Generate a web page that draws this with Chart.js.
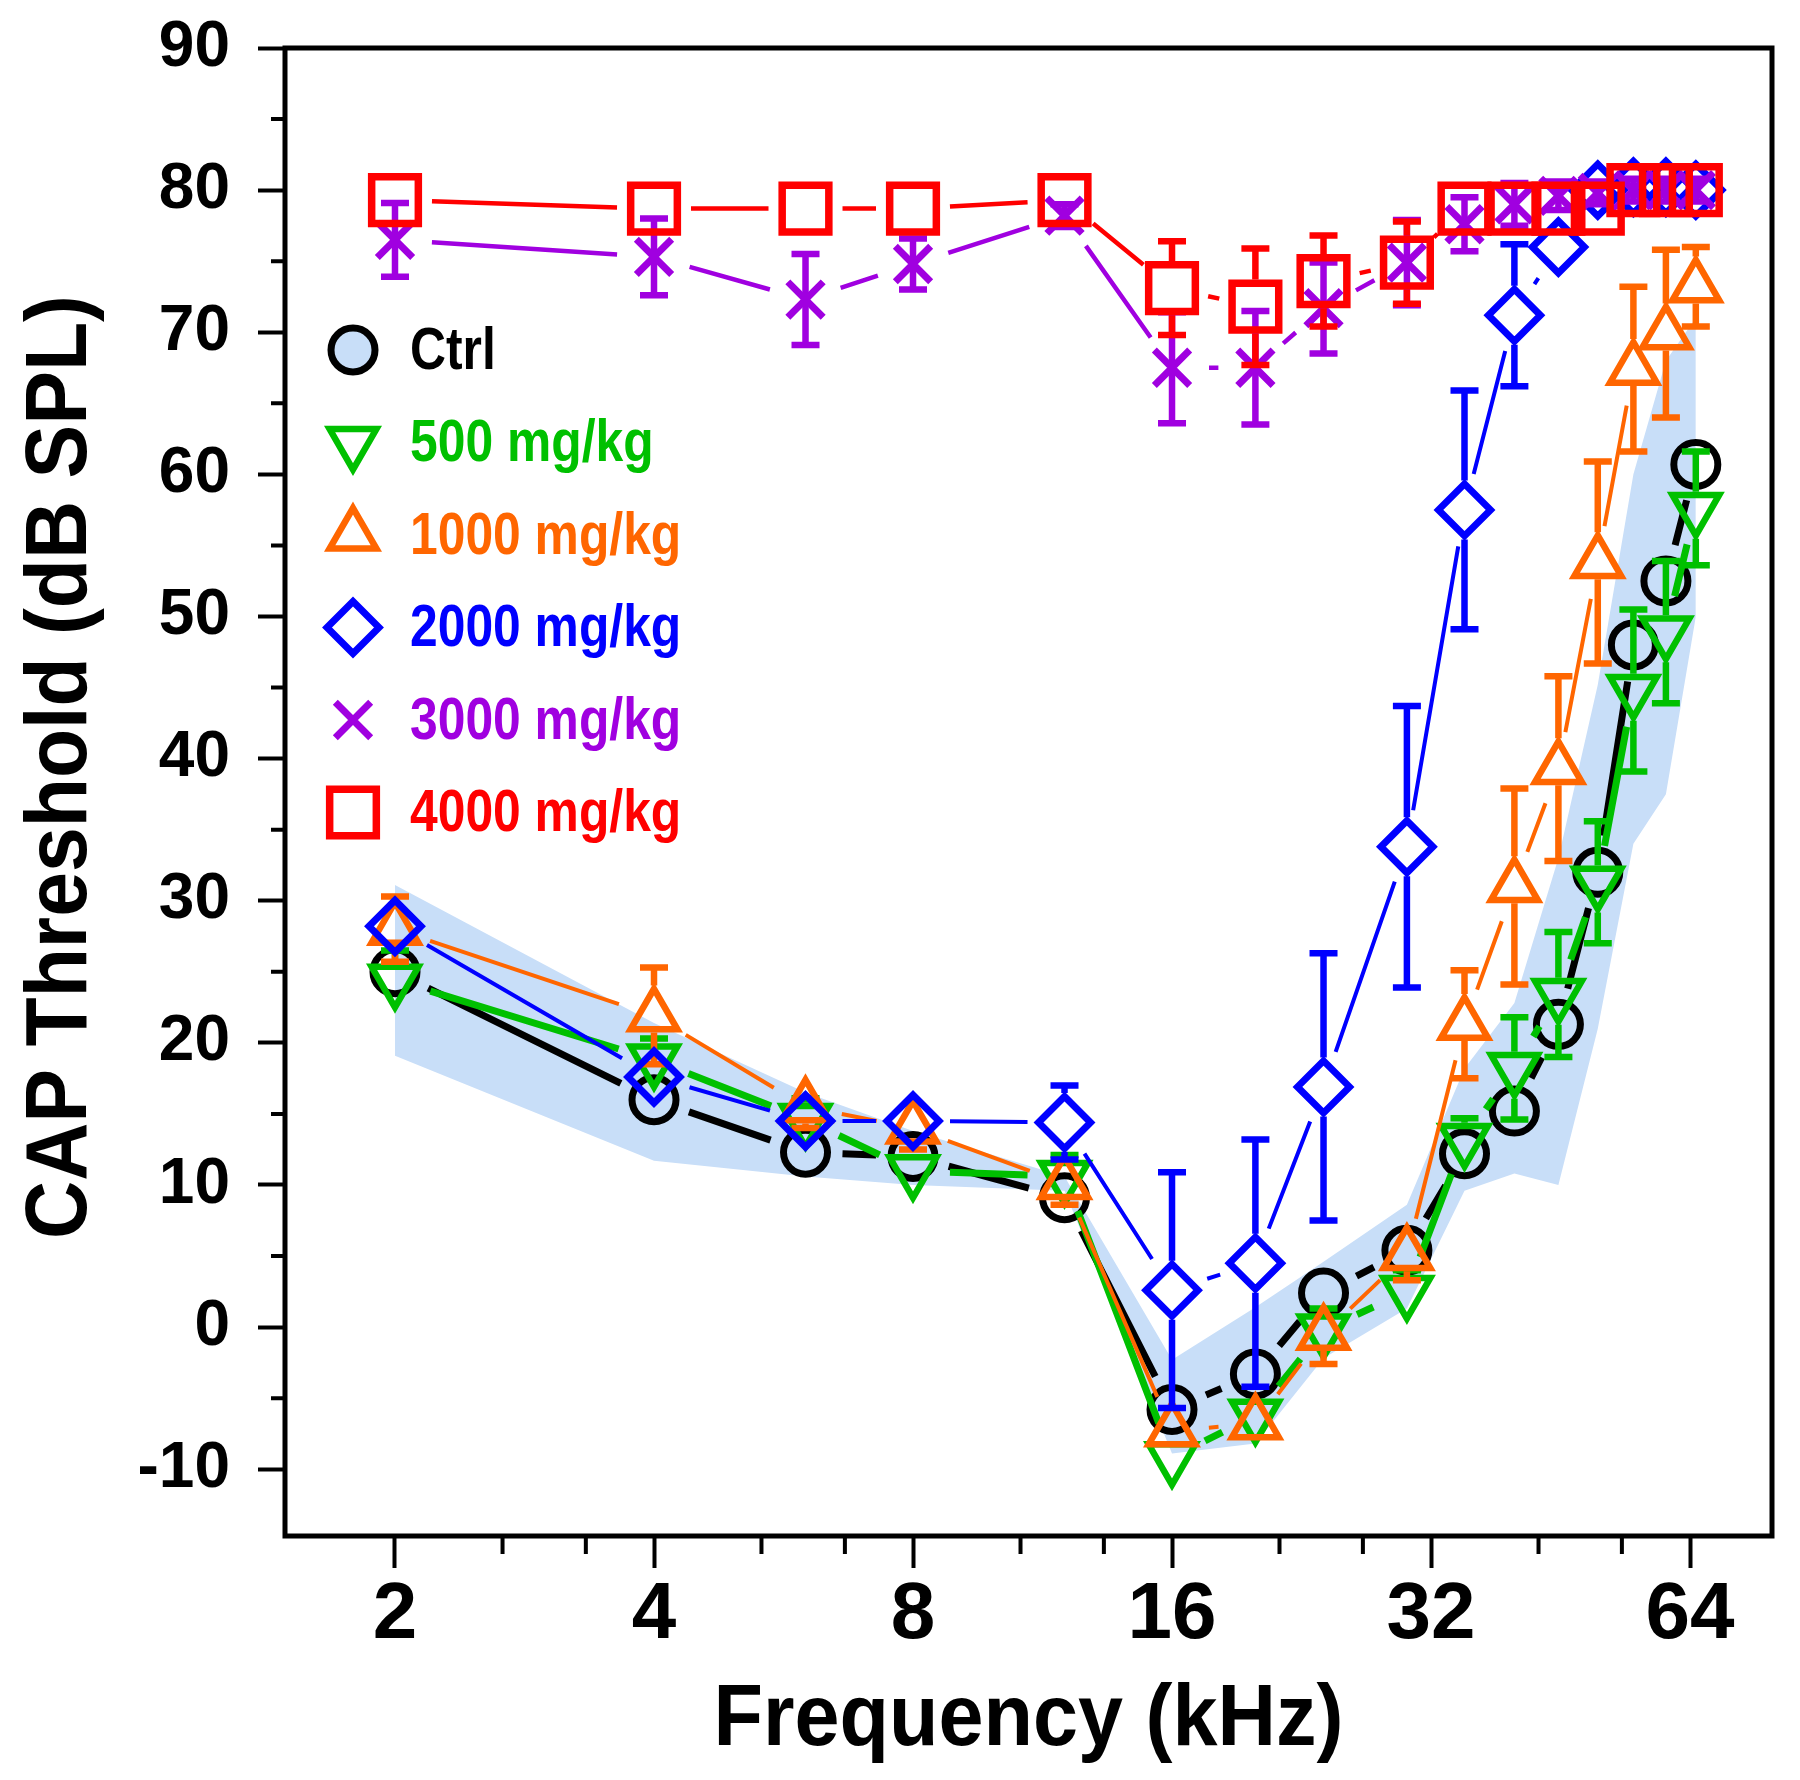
<!DOCTYPE html>
<html>
<head>
<meta charset="utf-8">
<title>CAP Threshold</title>
<script src="https://cdn.jsdelivr.net/npm/chart.js@4.4.1/dist/chart.umd.min.js"></script>
<style>
  html, body { margin: 0; padding: 0; background: #fff; }
  #wrap { width: 1800px; height: 1780px; }
</style>
</head>
<body>
<div id="wrap"><canvas id="capChart" width="1800" height="1780"></canvas></div>
<script>
const freqs = [2, 4, 6, 8, 12, 16, 20, 24, 30, 35, 40, 45, 50, 55, 60, 65];

// control mean and the shaded control range
const ctrl   = [25.0, 16.0, 12.3, 12.0, 9.1, -5.8, -3.3, 2.4, 5.4, 12.2, 15.2, 21.3, 32.0, 48.0, 52.5, 60.7];
const ctrlHi = [31.1, 21.4, 16.5, 13.8, 10.6, -2.3, 1.4, 4.6, 8.6, 18.2, 22.8, 33.0, 45.2, 60.0, 68.0, 71.0];
const ctrlLo = [19.1, 11.7, 10.6, 10.0, 9.6, -8.9, -8.2, -2.2, 1.3, 9.6, 10.8, 10.0, 21.0, 34.0, 37.5, 50.0];

const mg500  = [24.4, 18.8, 14.6, 11.0, 10.6, -9.2, -6.2, -0.2, 2.5, 13.2, 18.2, 23.4, 31.3, 44.8, 48.9, 57.6];
const sd500  = [2.1, 1.5, 1.5, 1.2, 1.5, 1.0, 1.0, 1.5, 1.5, 1.5, 3.6, 4.4, 4.3, 5.7, 5.0, 4.0];
const mg1000 = [28.0, 21.9, 15.5, 14.0, 10.1, -7.3, -6.8, -0.5, 5.1, 21.3, 31.0, 39.3, 53.8, 67.4, 69.9, 73.2];
const sd1000 = [2.3, 3.4, 1.5, 1.5, 1.5, 1.0, 1.0, 2.1, 1.8, 3.8, 6.9, 6.5, 7.1, 5.8, 5.9, 2.8];
const mg2000 = [28.2, 17.6, 14.5, 14.5, 14.4, 2.6, 4.5, 16.9, 33.8, 57.5, 71.2, 76.0, 80.0, 80.2, 80.2, 80.0];
const sd2000 = [1.5, 2.0, 2.0, 2.0, 2.6, 8.3, 8.7, 9.4, 9.9, 8.4, 5.0, 2.0, 0.8, 0.8, 0.8, 0.8];
const mg3000 = [76.5, 75.3, 72.3, 74.8, 78.2, 67.5, 67.5, 71.7, 74.9, 77.6, 79.0, 79.6, 79.8, 80.0, 80.0, 80.0];
const sd3000 = [2.6, 2.7, 3.2, 1.8, 0.8, 3.9, 4.0, 3.2, 3.0, 1.9, 1.5, 1.0, 0.8, 0.8, 0.8, 0.8];
const mg4000 = [79.3, 78.7, 78.7, 78.7, 79.3, 73.1, 71.8, 73.6, 74.9, 78.7, 78.7, 78.7, 78.7, 80.0, 80.0, 80.0];
const sd4000 = [1.0, 1.0, 0.8, 0.8, 0.8, 3.3, 4.1, 3.2, 2.9, 1.0, 0.8, 0.8, 0.8, 0.5, 0.5, 0.5];

const xTicks = [2, 4, 8, 16, 32, 64];
const xMinorTicks = [2.667, 3.333, 5.333, 6.667, 10.667, 13.333, 21.333, 26.667, 42.667, 53.333];
const yTicks = [-10, 0, 10, 20, 30, 40, 50, 60, 70, 80, 90];
const yMinorTicks = [-5, 5, 15, 25, 35, 45, 55, 65, 75, 85];

const xTitle = 'Frequency (kHz)';
const yTitle = 'CAP Threshold (dB SPL)';

const bandColor = 'rgb(200, 222, 248)';
const lineGap = 37;
const capHalf = 14;

const series = [
  { label: 'Ctrl', values: ctrl, sd: null, color: '#000000', pointStyle: 'circle', rotation: 0, radius: 22, pointWidth: 7, lineWidth: 7 },
  { label: '500 mg/kg', values: mg500, sd: sd500, color: '#00c000', pointStyle: 'triangle', rotation: 180, radius: 27, pointWidth: 6.5, lineWidth: 7 },
  { label: '1000 mg/kg', values: mg1000, sd: sd1000, color: '#ff6600', pointStyle: 'triangle', rotation: 0, radius: 27, pointWidth: 6.5, lineWidth: 4 },
  { label: '2000 mg/kg', values: mg2000, sd: sd2000, color: '#0000ff', pointStyle: 'rectRot', rotation: 0, radius: 26, pointWidth: 7, lineWidth: 4 },
  { label: '3000 mg/kg', values: mg3000, sd: sd3000, color: '#a000e0', pointStyle: 'crossRot', rotation: 0, radius: 25, pointWidth: 7, lineWidth: 4.5 },
  { label: '4000 mg/kg', values: mg4000, sd: sd4000, color: '#ff0000', pointStyle: 'rect', rotation: 0, radius: 33, pointWidth: 7.5, lineWidth: 4.5 },
];

const toPoints = vals => freqs.map((f, i) => ({ x: f, y: vals[i] }));

function markerEdges(ds) {
  const r = ds.pointRadius, half = ds.pointBorderWidth / 2;
  switch (ds.pointStyle) {
    case 'triangle':
      return ds.pointRotation === 180 ? [r / 2 + half, r + half] : [r + half, r / 2 + half];
    case 'rect':
      return [r * Math.SQRT1_2 + half, r * Math.SQRT1_2 + half];
    case 'crossRot':
      return [0, 0];
    default:
      return [r + half, r + half];
  }
}

// SigmaPlot style: connecting lines stop short of the symbols, error bars start at the symbol edge
const gapLinesPlugin = {
  id: 'gapLines',
  beforeDatasetDraw(chart, args) {
    const ds = chart.data.datasets[args.index];
    if (!ds.gapLine) return;
    const ctx = chart.ctx;
    const pts = args.meta.data;
    const yScale = chart.scales.y;

    ctx.save();
    ctx.strokeStyle = ds.borderColor;
    ctx.lineCap = 'butt';
    ctx.lineWidth = ds.lineW;
    ctx.beginPath();
    for (let i = 0; i < pts.length - 1; i++) {
      const a = pts[i], b = pts[i + 1];
      const dx = b.x - a.x, dy = b.y - a.y;
      const len = Math.hypot(dx, dy);
      if (len <= 2 * lineGap + 2) continue;
      const ux = dx / len, uy = dy / len;
      ctx.moveTo(a.x + ux * lineGap, a.y + uy * lineGap);
      ctx.lineTo(b.x - ux * lineGap, b.y - uy * lineGap);
    }
    ctx.stroke();

    if (ds.sd) {
      const edges = markerEdges(ds);
      ctx.lineWidth = 6.5;
      ds.sd.forEach((sd, i) => {
        const p = pts[i];
        const v = ds.data[i].y;
        const ends = [yScale.getPixelForValue(v + sd), yScale.getPixelForValue(v - sd)];
        ends.forEach((yEnd, k) => {
          const dir = k === 0 ? -1 : 1;
          const start = p.y + dir * edges[k];
          if ((yEnd - start) * dir <= 2) return;
          ctx.beginPath();
          ctx.moveTo(p.x, start);
          ctx.lineTo(p.x, yEnd);
          ctx.moveTo(p.x - capHalf, yEnd);
          ctx.lineTo(p.x + capHalf, yEnd);
          ctx.stroke();
        });
      });
    }
    ctx.restore();
  }
};

// frame, minor ticks, axis titles and the legend
const decorPlugin = {
  id: 'decor',
  afterDraw(chart) {
    const ctx = chart.ctx;
    const area = chart.chartArea;
    const xs = chart.scales.x, ys = chart.scales.y;

    ctx.save();
    ctx.strokeStyle = '#000';
    ctx.lineWidth = 5;
    ctx.strokeRect(area.left, area.top, area.right - area.left, area.bottom - area.top);

    ctx.lineWidth = 4;
    ctx.beginPath();
    yMinorTicks.forEach(v => {
      const y = ys.getPixelForValue(v);
      ctx.moveTo(area.left - 14, y);
      ctx.lineTo(area.left, y);
    });
    xMinorTicks.forEach(v => {
      const x = xs.getPixelForValue(v);
      ctx.moveTo(x, area.bottom);
      ctx.lineTo(x, area.bottom + 18);
    });
    ctx.stroke();

    ctx.fillStyle = '#000';
    ctx.font = 'bold 88px "Liberation Sans", Arial, sans-serif';
    ctx.textAlign = 'center';
    ctx.textBaseline = 'alphabetic';
    ctx.save();
    ctx.translate((area.left + area.right) / 2, 1745);
    ctx.scale(0.92, 1);
    ctx.fillText(xTitle, 0, 0);
    ctx.restore();

    ctx.save();
    ctx.translate(86, 767);
    ctx.rotate(-Math.PI / 2);
    ctx.scale(0.915, 1);
    ctx.fillText(yTitle, 0, 0);
    ctx.restore();

    // legend
    const drawPoint = Chart.helpers.drawPoint;
    ctx.font = 'bold 60px "Liberation Sans", Arial, sans-serif';
    ctx.textAlign = 'left';
    ctx.textBaseline = 'middle';
    series.forEach((s, i) => {
      const y = 350 + i * 92.5;
      ctx.strokeStyle = s.color;
      ctx.fillStyle = i === 0 ? bandColor : 'rgba(0,0,0,0)';
      ctx.lineWidth = s.pointWidth;
      drawPoint(ctx, { pointStyle: s.pointStyle, rotation: s.rotation, radius: s.radius, borderWidth: s.pointWidth }, 353, y);
      ctx.save();
      ctx.translate(410, y + 2);
      ctx.scale(0.83, 1);
      ctx.fillStyle = s.color;
      ctx.fillText(s.label, 0, 0);
      ctx.restore();
    });
    ctx.restore();
  }
};

const datasets = [
  { label: 'Ctrl range high', data: toPoints(ctrlHi), fill: '+1', backgroundColor: bandColor, borderColor: 'rgba(0,0,0,0)', borderWidth: 0, pointRadius: 0, tension: 0, order: 10 },
  { label: 'Ctrl range low', data: toPoints(ctrlLo), fill: false, borderColor: 'rgba(0,0,0,0)', borderWidth: 0, pointRadius: 0, tension: 0, order: 10 },
  ...series.map((s, i) => ({
    label: s.label,
    data: toPoints(s.values),
    sd: s.sd,
    showLine: false,
    gapLine: true,
    lineW: s.lineWidth,
    borderColor: s.color,
    pointBorderColor: s.color,
    pointBackgroundColor: 'rgba(0,0,0,0)',
    pointStyle: s.pointStyle,
    pointRotation: s.rotation,
    pointRadius: s.radius,
    pointBorderWidth: s.pointWidth,
    clip: false,
    order: series.length - i,
  })),
];

const tickFont = size => ({ family: '"Liberation Sans", Arial, sans-serif', weight: 'bold', size: size });

const ctx = document.getElementById('capChart').getContext('2d');
const chart = new Chart(ctx, {
  type: 'line',
  data: { datasets: datasets },
  options: {
    responsive: false,
    devicePixelRatio: 1,
    animation: false,
    events: [],
    layout: { autoPadding: false, padding: { left: 0, right: 28, top: 48, bottom: 0 } },
    plugins: {
      legend: { display: false },
      tooltip: { enabled: false },
    },
    scales: {
      x: {
        type: 'logarithmic',
        min: 1.49,
        max: 79.7,
        afterBuildTicks: scale => { scale.ticks = xTicks.map(v => ({ value: v })); },
        afterFit: scale => {
          scale.height = 244;
          scale.paddingLeft = 0;
          scale.paddingRight = 0;
        },
        grid: { display: true, drawOnChartArea: false, drawTicks: true, tickLength: 32, tickWidth: 4, tickColor: '#000' },
        border: { display: false },
        ticks: {
          autoSkip: false,
          maxRotation: 0,
          padding: 0,
          color: '#000',
          font: tickFont(80),
          callback: value => String(value),
        },
      },
      y: {
        type: 'linear',
        min: -14.7,
        max: 90,
        afterBuildTicks: scale => { scale.ticks = yTicks.map(v => ({ value: v })); },
        afterFit: scale => {
          scale.width = 285;
          scale.paddingTop = 0;
          scale.paddingBottom = 0;
        },
        grid: { display: true, drawOnChartArea: false, drawTicks: true, tickLength: 27, tickWidth: 4, tickColor: '#000' },
        border: { display: false },
        ticks: {
          autoSkip: false,
          padding: 28,
          color: '#000',
          font: tickFont(64),
          callback: value => String(value),
        },
      },
    },
  },
  plugins: [gapLinesPlugin, decorPlugin],
});
</script>
</body>
</html>
